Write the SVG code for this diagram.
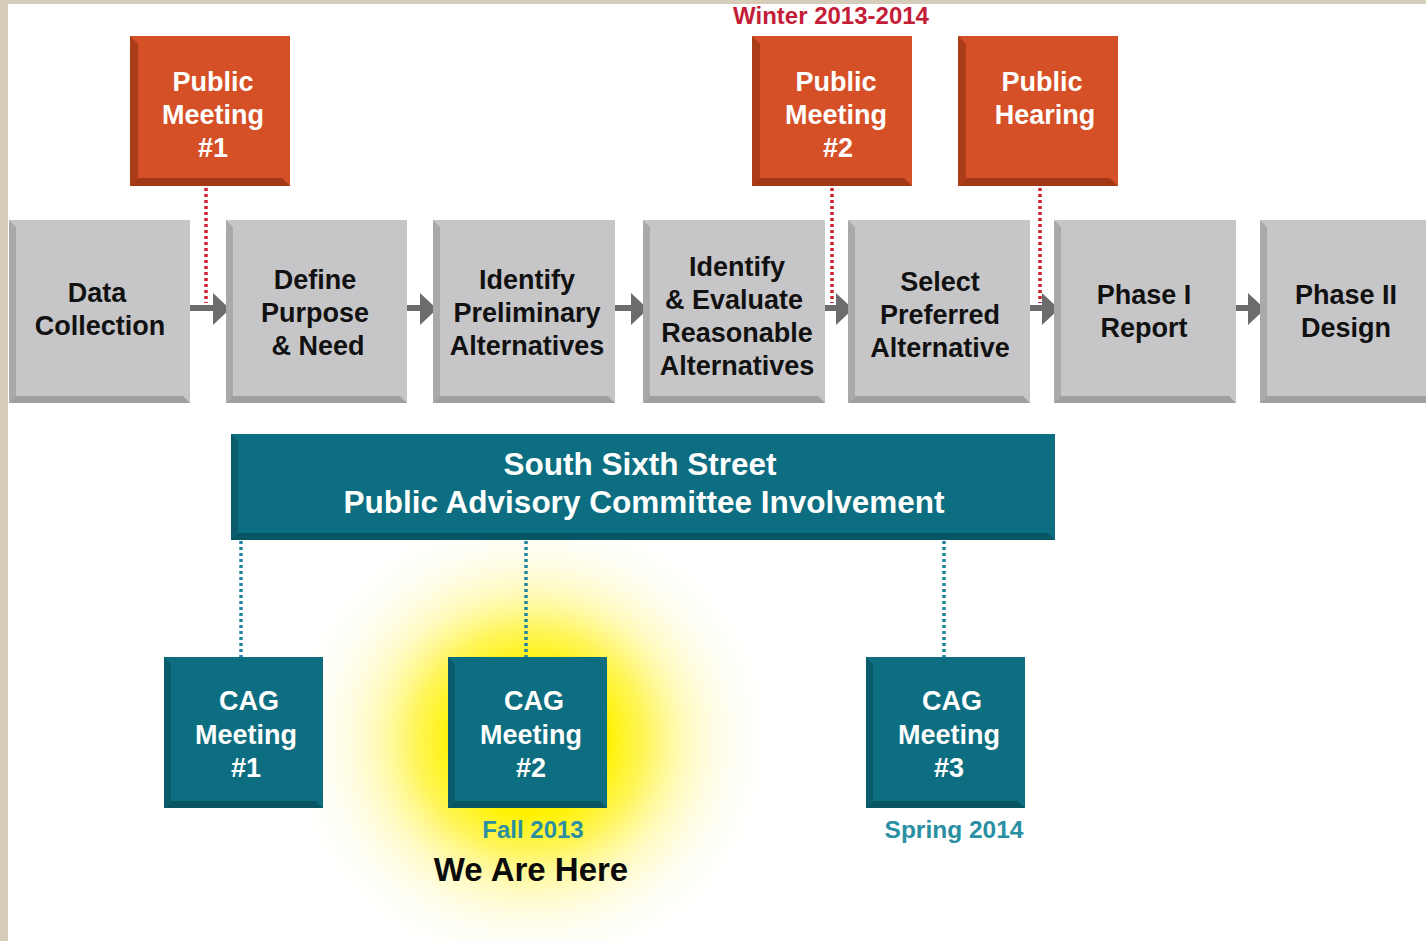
<svg xmlns="http://www.w3.org/2000/svg" width="1426" height="941" viewBox="0 0 1426 941">
<defs>
<style>
.t{font-family:"Liberation Sans",Arial,sans-serif;font-weight:bold;text-anchor:middle}
.gt{font-size:27px;fill:#111}
.wt{font-size:27px;fill:#fff}
.gface{fill:#c6c6c8}.gl{fill:#a9a9ab}.gb{fill:#9f9fa1}
.oface{fill:#d55026}.ol{fill:#ab3c18}.ob{fill:#a33817}
.tface{fill:#0c6e80}.tl{fill:#0a5c6b}.tb{fill:#085664}
.arrow{fill:#6c6c6e}
.rdot{stroke:#d3222f;stroke-width:3.5;stroke-dasharray:3 3;fill:none}
.bdot{stroke:#1f87a0;stroke-width:3.5;stroke-dasharray:3 3;fill:none}
</style>
<radialGradient id="glow" cx="0.5" cy="0.5" r="0.5">
<stop offset="0" stop-color="#fff200"/>
<stop offset="0.3" stop-color="#fff200"/>
<stop offset="0.45" stop-color="#fff330" stop-opacity="0.8"/>
<stop offset="0.62" stop-color="#fff67a" stop-opacity="0.45"/>
<stop offset="0.8" stop-color="#fffac0" stop-opacity="0.18"/>
<stop offset="1" stop-color="#ffffff" stop-opacity="0"/>
</radialGradient>
</defs>
<rect width="1426" height="941" fill="#ffffff"/>
<rect x="0" y="0" width="1426" height="4" fill="#d5cdb9"/>
<rect x="0" y="0" width="8" height="941" fill="#d5cdb9"/>
<ellipse cx="530" cy="740" rx="255" ry="245" fill="url(#glow)"/>

<g id="connectors">
<line class="rdot" x1="206" y1="188" x2="206" y2="303"/>
<line class="rdot" x1="832" y1="188" x2="832" y2="303"/>
<line class="rdot" x1="1040" y1="188" x2="1040" y2="303"/>
<line class="bdot" x1="241" y1="541" x2="241" y2="657"/>
<line class="bdot" x1="526" y1="541" x2="526" y2="657"/>
<line class="bdot" x1="944" y1="541" x2="944" y2="657"/>
<g id="arrow1"><rect class="arrow" x="190" y="305" width="25" height="6"/><polygon class="arrow" points="213,293 230,309 213,325"/></g>
<g id="arrow2"><rect class="arrow" x="407" y="305" width="15" height="6"/><polygon class="arrow" points="420,293 437,309 420,325"/></g>
<g id="arrow3"><rect class="arrow" x="615" y="305" width="18" height="6"/><polygon class="arrow" points="631,293 648,309 631,325"/></g>
<g id="arrow4"><rect class="arrow" x="825" y="305" width="12" height="6"/><polygon class="arrow" points="836,293 853,309 836,325"/></g>
<g id="arrow5"><rect class="arrow" x="1030" y="305" width="14" height="6"/><polygon class="arrow" points="1042,293 1059,309 1042,325"/></g>
<g id="arrow6"><rect class="arrow" x="1236" y="305" width="14" height="6"/><polygon class="arrow" points="1248,293 1265,309 1248,325"/></g>
</g>

<g id="pm1">
<rect class="oface" x="130" y="36" width="160" height="150"/>
<polygon class="ol" points="130,36 138,44 138,178 130,186"/>
<polygon class="ob" points="130,186 138,178 282,178 290,186"/>
<text class="t wt"><tspan x="213" y="91">Public</tspan><tspan x="213" y="124">Meeting</tspan><tspan x="213" y="157">#1</tspan></text>
</g>
<g id="pm2">
<rect class="oface" x="752" y="36" width="160" height="150"/>
<polygon class="ol" points="752,36 760,44 760,178 752,186"/>
<polygon class="ob" points="752,186 760,178 904,178 912,186"/>
<text class="t wt"><tspan x="836" y="91">Public</tspan><tspan x="836" y="124">Meeting</tspan><tspan x="838" y="157">#2</tspan></text>
</g>
<g id="ph">
<rect class="oface" x="958" y="36" width="160" height="150"/>
<polygon class="ol" points="958,36 966,44 966,178 958,186"/>
<polygon class="ob" points="958,186 966,178 1110,178 1118,186"/>
<text class="t wt"><tspan x="1042" y="91">Public</tspan><tspan x="1045" y="124">Hearing</tspan></text>
</g>
<text id="winter" class="t" x="831" y="24" style="font-size:24px;fill:#c41d37">Winter 2013-2014</text>

<g id="data">
<rect class="gface" x="9" y="220" width="181" height="183"/>
<polygon class="gl" points="9,220 16,227 16,396 9,403"/>
<polygon class="gb" points="9,403 16,396 183,396 190,403"/>
<text class="t gt"><tspan x="97" y="302">Data</tspan><tspan x="100" y="335">Collection</tspan></text>
</g>
<g id="define">
<rect class="gface" x="226" y="220" width="181" height="183"/>
<polygon class="gl" points="226,220 233,227 233,396 226,403"/>
<polygon class="gb" points="226,403 233,396 400,396 407,403"/>
<text class="t gt"><tspan x="315" y="289">Define</tspan><tspan x="315" y="322">Purpose</tspan><tspan x="318" y="355">&amp; Need</tspan></text>
</g>
<g id="prelim">
<rect class="gface" x="433" y="220" width="182" height="183"/>
<polygon class="gl" points="433,220 440,227 440,396 433,403"/>
<polygon class="gb" points="433,403 440,396 608,396 615,403"/>
<text class="t gt"><tspan x="527" y="289">Identify</tspan><tspan x="527" y="322">Preliminary</tspan><tspan x="527" y="355">Alternatives</tspan></text>
</g>
<g id="evaluate">
<rect class="gface" x="643" y="220" width="182" height="183"/>
<polygon class="gl" points="643,220 650,227 650,396 643,403"/>
<polygon class="gb" points="643,403 650,396 818,396 825,403"/>
<text class="t gt"><tspan x="737" y="276">Identify</tspan><tspan x="734" y="309">&amp; Evaluate</tspan><tspan x="737" y="342">Reasonable</tspan><tspan x="737" y="375">Alternatives</tspan></text>
</g>
<g id="select">
<rect class="gface" x="848" y="220" width="182" height="183"/>
<polygon class="gl" points="848,220 855,227 855,396 848,403"/>
<polygon class="gb" points="848,403 855,396 1023,396 1030,403"/>
<text class="t gt"><tspan x="940" y="291">Select</tspan><tspan x="940" y="324">Preferred</tspan><tspan x="940" y="357">Alternative</tspan></text>
</g>
<g id="phase1">
<rect class="gface" x="1054" y="220" width="182" height="183"/>
<polygon class="gl" points="1054,220 1061,227 1061,396 1054,403"/>
<polygon class="gb" points="1054,403 1061,396 1229,396 1236,403"/>
<text class="t gt"><tspan x="1144" y="304">Phase I</tspan><tspan x="1144" y="337">Report</tspan></text>
</g>
<g id="phase2">
<rect class="gface" x="1260" y="220" width="182" height="183"/>
<polygon class="gl" points="1260,220 1267,227 1267,396 1260,403"/>
<polygon class="gb" points="1260,403 1267,396 1435,396 1442,403"/>
<text class="t gt"><tspan x="1346" y="304">Phase II</tspan><tspan x="1346" y="337">Design</tspan></text>
</g>

<g id="banner">
<rect class="tface" x="231" y="434" width="824" height="106"/>
<polygon class="tl" points="231,434 238,441 238,533 231,540"/>
<polygon class="tb" points="231,540 238,533 1048,533 1055,540"/>
<text class="t" style="font-size:31.5px;fill:#fff"><tspan x="640" y="475">South Sixth Street</tspan><tspan x="644" y="513">Public Advisory Committee Involvement</tspan></text>
</g>

<g id="cag1">
<rect class="tface" x="164" y="657" width="159" height="151"/>
<polygon class="tl" points="164,657 171,664 171,801 164,808"/>
<polygon class="tb" points="164,808 171,801 316,801 323,808"/>
<text class="t wt"><tspan x="249" y="710">CAG</tspan><tspan x="246" y="744">Meeting</tspan><tspan x="246" y="777">#1</tspan></text>
</g>
<g id="cag2">
<rect class="tface" x="448" y="657" width="159" height="151"/>
<polygon class="tl" points="448,657 455,664 455,801 448,808"/>
<polygon class="tb" points="448,808 455,801 600,801 607,808"/>
<text class="t wt"><tspan x="534" y="710">CAG</tspan><tspan x="531" y="744">Meeting</tspan><tspan x="531" y="777">#2</tspan></text>
</g>
<g id="cag3">
<rect class="tface" x="866" y="657" width="159" height="151"/>
<polygon class="tl" points="866,657 873,664 873,801 866,808"/>
<polygon class="tb" points="866,808 873,801 1018,801 1025,808"/>
<text class="t wt"><tspan x="952" y="710">CAG</tspan><tspan x="949" y="744">Meeting</tspan><tspan x="949" y="777">#3</tspan></text>
</g>

<text class="t" x="533" y="838" style="font-size:24px;fill:#2a8fa2">Fall 2013</text>
<text class="t" x="531" y="881" style="font-size:33px;fill:#0a0a0a">We Are Here</text>
<text class="t" x="954" y="838" style="font-size:24.5px;fill:#2a8fa2">Spring 2014</text>
</svg>
